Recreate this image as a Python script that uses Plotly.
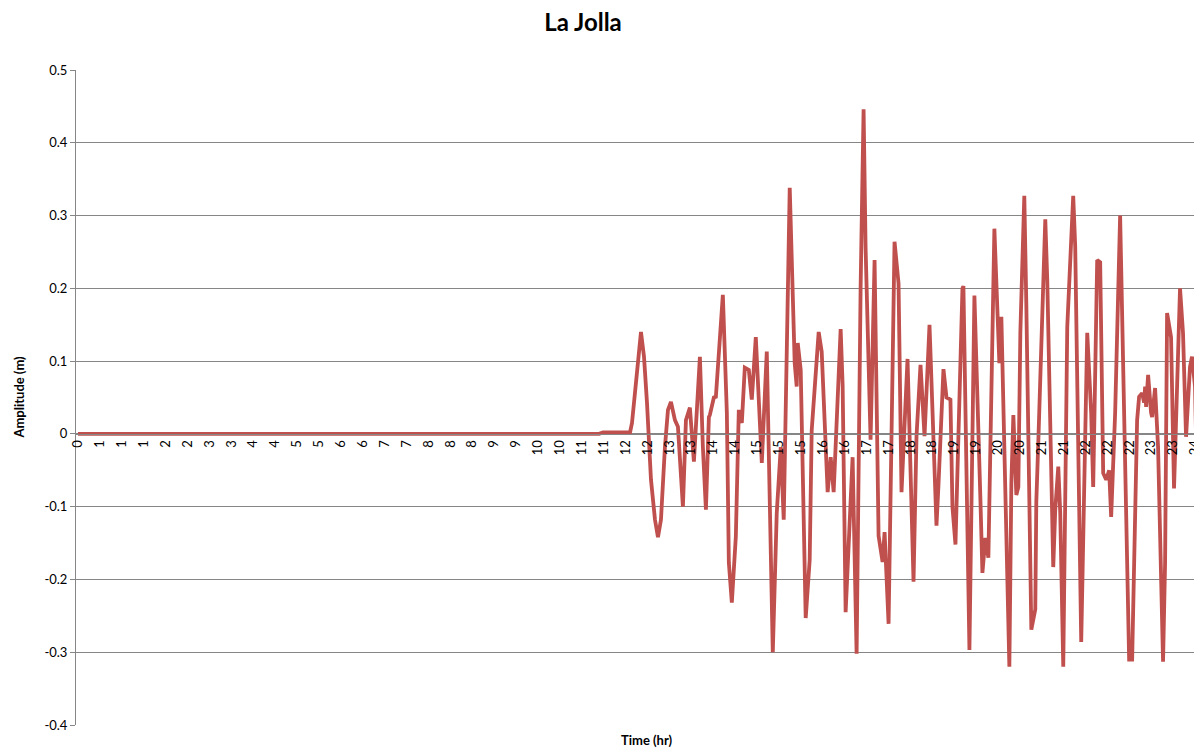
import plotly.graph_objects as go

# Time (hours) and amplitude (m)
time_hr = [0.0, 11.196, 11.281, 11.861, 11.903, 11.968, 12.075, 12.096, 12.161, 12.225,
           12.311, 12.397, 12.461, 12.525, 12.611, 12.676, 12.740, 12.826, 12.890, 12.954,
           12.997, 13.062, 13.147, 13.233, 13.298, 13.362, 13.426, 13.491, 13.555, 13.576,
           13.662, 13.705, 13.855, 13.941, 13.984, 14.048, 14.134, 14.177, 14.198, 14.263,
           14.327, 14.413, 14.477, 14.563, 14.692, 14.799, 14.928, 15.013, 15.099, 15.163,
           15.292, 15.399, 15.442, 15.464, 15.528, 15.635, 15.721, 15.764, 15.850, 15.914,
           15.979, 16.107, 16.172, 16.236, 16.386, 16.429, 16.493, 16.600, 16.643, 16.729,
           16.815, 16.879, 16.922, 17.029, 17.115, 17.201, 17.287, 17.330, 17.416, 17.544,
           17.630, 17.694, 17.759, 17.823, 17.952, 18.016, 18.102, 18.188, 18.295, 18.445,
           18.488, 18.595, 18.660, 18.745, 18.788, 18.853, 19.003, 19.024, 19.153, 19.260,
           19.389, 19.432, 19.496, 19.560, 19.689, 19.753, 19.796, 19.839, 20.011, 20.054,
           20.097, 20.161, 20.204, 20.247, 20.332, 20.375, 20.483, 20.568, 20.590, 20.633,
           20.697, 20.783, 20.826, 20.954, 20.997, 21.062, 21.104, 21.169, 21.255, 21.383,
           21.426, 21.555, 21.684, 21.769, 21.812, 21.898, 21.962, 22.027, 22.091, 22.155,
           22.198, 22.284, 22.391, 22.584, 22.649, 22.692, 22.713, 22.756, 22.799, 22.863,
           22.906, 22.928, 22.949, 22.992, 23.056, 23.078, 23.142, 23.206, 23.313, 23.357,
           23.400, 23.485, 23.549, 23.678, 23.742, 23.807, 23.892, 23.935, 24.000, 24.064,
           24.150]

amplitude_m = [0.0, 0.0, 0.002, 0.002, 0.015, 0.060, 0.136, 0.140, 0.106, 0.043,
               -0.063, -0.118, -0.142, -0.118, -0.018, 0.033, 0.044, 0.019, 0.010, -0.063,
               -0.100, 0.019, 0.036, -0.038, 0.037, 0.106, -0.018, -0.104, 0.023, 0.026,
               0.050, 0.051, 0.191, 0.029, -0.177, -0.232, -0.141, 0.005, 0.033, 0.015,
               0.091, 0.088, 0.047, 0.133, -0.040, 0.113, -0.300, -0.109, -0.018, -0.118,
               0.338, 0.097, 0.065, 0.125, 0.088, -0.253, -0.173, 0.005, 0.088, 0.140,
               0.113, -0.080, -0.032, -0.080, 0.144, 0.066, -0.245, -0.092, -0.032, -0.302,
               0.200, 0.446, 0.256, -0.008, 0.239, -0.140, -0.176, -0.135, -0.261, 0.264,
               0.207, -0.080, 0.023, 0.103, -0.203, -0.003, 0.095, -0.003, 0.150, -0.126,
               -0.070, 0.089, 0.050, 0.047, -0.100, -0.152, 0.200, 0.203, -0.297, 0.190,
               -0.090, -0.191, -0.143, -0.170, 0.282, 0.161, 0.097, 0.161, -0.320, -0.068,
               0.026, -0.084, -0.073, 0.139, 0.327, 0.180, -0.269, -0.241, -0.093, -0.011,
               0.133, 0.295, 0.210, -0.183, -0.104, -0.045, -0.108, -0.320, 0.147, 0.327,
               0.257, -0.286, 0.139, 0.029, -0.073, 0.239, 0.236, -0.054, -0.063, -0.050,
               -0.114, 0.029, 0.300, -0.310, -0.310, -0.160, -0.128, 0.019, 0.051, 0.056,
               0.043, 0.065, 0.037, 0.081, 0.029, 0.023, 0.063, -0.018, -0.313, -0.177,
               0.166, 0.133, -0.075, 0.200, 0.139, -0.004, 0.092, 0.106, 0.065, -0.128,
               -0.175]

x_tick_labels = ["0", "1", "1", "1", "2", "2", "3", "3", "4", "4", "5", "5", "6", "6",
                 "7", "7", "8", "8", "8", "9", "9", "10", "10", "11", "11", "12", "12",
                 "13", "13", "14", "14", "15", "15", "15", "16", "16", "17", "17", "18",
                 "18", "19", "19", "20", "20", "21", "21", "22", "22", "22", "23", "23", "24"]

y_tick_vals = [0.5, 0.4, 0.3, 0.2, 0.1, 0.0, -0.1, -0.2, -0.3, -0.4]
y_tick_labels = ["0.5", "0.4", "0.3", "0.2", "0.1", "0", "-0.1", "-0.2", "-0.3", "-0.4"]

FONT = "Lato, 'Open Sans', sans-serif"
# page body has an 8px default margin; figure is sized so it fills the window after it
W, H = 1194, 741
ML, MR, MT, MB = 68, 0, 62, 24

x_span_hours = 24.0
x_tick_vals = [i * x_span_hours / (len(x_tick_labels) - 1) for i in range(len(x_tick_labels))]

y_min, y_max = -0.4, 0.5

fig = go.Figure()
fig.add_trace(go.Scatter(
    x=time_hr, y=amplitude_m, mode="lines",
    line=dict(color="#C0504D", width=3.8),
    hoverinfo="skip", showlegend=False,
))

fig.update_layout(
    width=W, height=H,
    margin=dict(l=ML, r=MR, t=MT, b=MB),
    paper_bgcolor="white", plot_bgcolor="white",
    font=dict(family=FONT, color="#000000"),
    title=dict(text="<b>La Jolla</b>", x=575 / W, xref="container", xanchor="center",
               y=1 - 15 / H, yref="container", yanchor="middle",
               font=dict(family=FONT, size=24, color="#000000")),
    xaxis=dict(
        range=[-0.043, 24.107],
        tickmode="array", tickvals=x_tick_vals, ticktext=x_tick_labels,
        tickangle=-90, tickfont=dict(size=13, color="#000000"),
        ticklabeloverflow="allow",
        showgrid=False, zeroline=False,
        showline=True, linecolor="#868686", linewidth=1,
        ticks="", anchor="free",
        position=(0 - y_min) / (y_max - y_min),
    ),
    yaxis=dict(
        range=[y_min, y_max],
        tickmode="array", tickvals=y_tick_vals, ticktext=y_tick_labels,
        tickfont=dict(size=13, color="#000000"),
        showgrid=True, gridcolor="#868686", gridwidth=1,
        zeroline=False,
        showline=True, linecolor="#868686", linewidth=1,
        ticks="outside", ticklen=5, tickcolor="#868686",
    ),
    annotations=[
        dict(text="<b>Amplitude (m)</b>", x=(10 - ML) / (W - ML - MR), y=0.5,
             xref="paper", yref="paper", xanchor="center", yanchor="middle",
             textangle=-90, showarrow=False,
             font=dict(family=FONT, size=13, color="#000000")),
        dict(text="<b>Time (hr)</b>", x=(640 - ML) / (W - ML - MR),
             y=-(732 - (H - MB)) / (H - MT - MB),
             xref="paper", yref="paper", xanchor="center", yanchor="middle",
             showarrow=False,
             font=dict(family=FONT, size=13, color="#000000")),
    ],
)

fig.write_html("out.html")
